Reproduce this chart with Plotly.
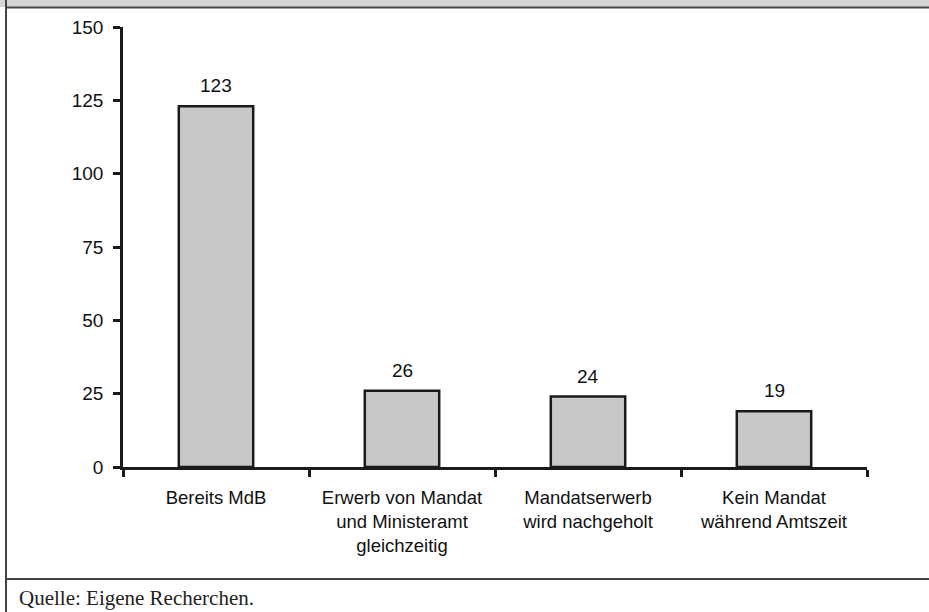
import plotly.graph_objects as go

categories = ["Bereits MdB", "Erwerb von Mandat<br>und Ministeramt<br>gleichzeitig",
              "Mandatserwerb<br>wird nachgeholt", "Kein Mandat<br>während Amtszeit"]
values = [123, 26, 24, 19]
y_ticks = [0, 25, 50, 75, 100, 125, 150]

W, H = 929, 612
L, R, T, B = 123, 62, 27, 145
pw, ph = W - L - R, H - T - B

def px(x):
    return (x - L) / pw

def py(y):
    return (H - B - y) / ph

SANS = "Liberation Sans, Arial"
fig = go.Figure(go.Bar(
    x=categories, y=values, width=0.4,
    marker=dict(color="#c8c8c8", line=dict(color="#1a1a1a", width=2.5)),
    cliponaxis=False,
))

frame = "#454545"
shapes = [
    dict(type="rect", xref="paper", yref="paper", x0=px(0), x1=px(W), y0=py(7), y1=py(-5),
         fillcolor="#d4d4d4", line=dict(width=0), layer="below"),
    dict(type="line", xref="paper", yref="paper", x0=px(6), x1=px(W), y0=py(7.5), y1=py(7.5),
         line=dict(color=frame, width=2)),
    dict(type="line", xref="paper", yref="paper", x0=px(6), x1=px(6), y0=py(0), y1=py(H + 5),
         line=dict(color=frame, width=2)),
    dict(type="line", xref="paper", yref="paper", x0=px(6), x1=px(W), y0=py(579), y1=py(579),
         line=dict(color=frame, width=2)),
]

annotations = [dict(text="Quelle: Eigene Recherchen.", xref="paper", yref="paper",
                    x=px(17), y=py(598), xanchor="left", yanchor="middle", showarrow=False,
                    font=dict(family="Liberation Serif, DejaVu Serif", size=21, color="#222"))]
for c, v in zip(categories, values):
    annotations.append(dict(text=str(v), x=c, y=v, xref="x", yref="y", yanchor="bottom",
                            yshift=8, showarrow=False,
                            font=dict(family=SANS, size=19, color="#111")))

fig.update_layout(
    width=W, height=H,
    margin=dict(l=L, r=R, t=T, b=B, pad=0),
    paper_bgcolor="white", plot_bgcolor="white",
    showlegend=False,
    font=dict(family=SANS, size=19, color="#111"),
    shapes=shapes,
    annotations=annotations,
)
fig.update_xaxes(
    type="category", tickson="boundaries", ticks="outside", ticklen=7, tickwidth=2.5,
    tickcolor="#1a1a1a", showline=True, linecolor="#1a1a1a", linewidth=2.5,
    showgrid=False, zeroline=False, range=[-0.5, 3.5], ticklabelstandoff=12,
    tickfont=dict(family=SANS, size=18.5, color="#111"),
)
fig.update_yaxes(
    range=[0, 150], tickvals=y_ticks, ticks="outside", ticklen=7, tickwidth=2.5,
    tickcolor="#1a1a1a", showline=True, linecolor="#1a1a1a", linewidth=2.5,
    showgrid=False, zeroline=False, ticklabelstandoff=6,
    tickfont=dict(family=SANS, size=19, color="#111"),
)

fig.write_html("out.html")
